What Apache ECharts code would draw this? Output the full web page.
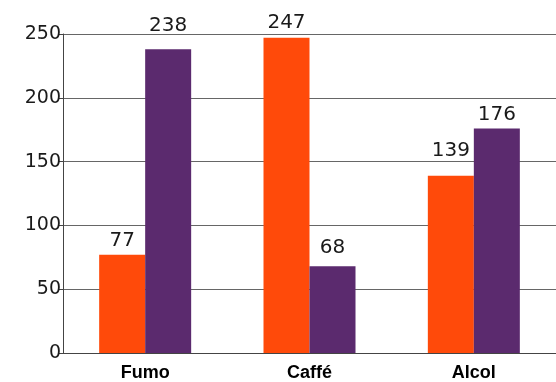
<!DOCTYPE html>
<html>
<head>
<meta charset="utf-8">
<script src="https://cdn.jsdelivr.net/npm/echarts@6/dist/echarts.min.js"></script>
<style>html,body{margin:0;padding:0;background:#fff;}#c{width:556px;height:382px;}</style>
</head>
<body>
<div id="c"></div>
<script>
const categories = ['Fumo', 'Caffé', 'Alcol'];
const seriesA = [77, 247, 139];
const seriesB = [238, 68, 176];
const yTicks = [0, 50, 100, 150, 200, 250];

const gapA = [4, 5, 15];
const gapB = [14, 8, 4];

const chart = echarts.init(document.getElementById('c'));
const labelStyle = {
  show: true, position: 'top', color: '#1a1a1a',
  fontFamily: 'DejaVu Sans', fontSize: 20
};
function items(vals, gaps) {
  return vals.map((v, i) => ({ value: v, label: { distance: gaps[i] } }));
}
chart.setOption({
  animation: false,
  grid: { left: 63, top: 34, bottom: 28, right: -4 },
  xAxis: {
    type: 'category', data: categories,
    axisLine: { lineStyle: { color: '#444', width: 1 } },
    axisTick: { show: false },
    axisLabel: { color: '#000', fontFamily: 'Liberation Sans', fontWeight: 'bold', fontSize: 18, margin: 11 }
  },
  yAxis: {
    type: 'value', min: yTicks[0], max: yTicks[yTicks.length - 1], interval: 50,
    axisLine: { show: true, lineStyle: { color: '#444', width: 1 } },
    axisTick: { show: true, length: 4, lineStyle: { color: '#444' } },
    axisLabel: { color: '#1a1a1a', fontFamily: 'DejaVu Sans', fontSize: 19, margin: 2 },
    splitLine: { lineStyle: { color: '#666', width: 1 } }
  },
  series: [
    { type: 'bar', data: items(seriesA, gapA), barWidth: 46, barGap: '0%',
      itemStyle: { color: '#FF4A0A' }, label: labelStyle },
    { type: 'bar', data: items(seriesB, gapB), barWidth: 46, barGap: '0%',
      itemStyle: { color: '#5B2A6E' }, label: labelStyle }
  ]
});
</script>
</body>
</html>
